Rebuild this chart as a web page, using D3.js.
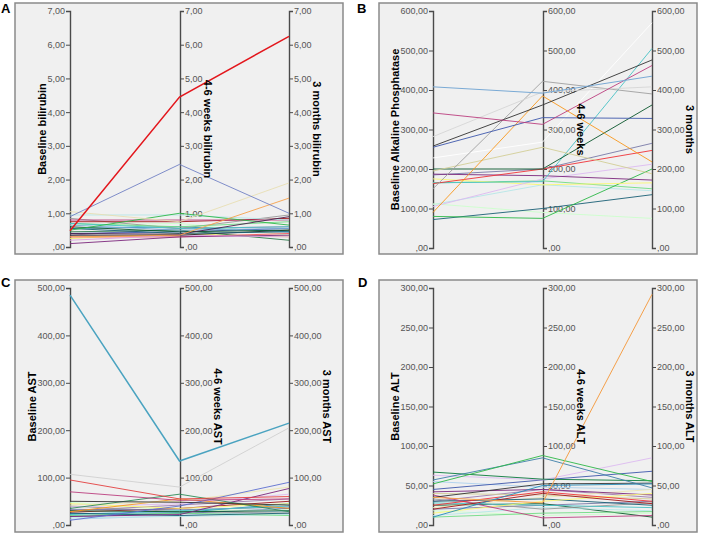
<!DOCTYPE html>
<html>
<head>
<meta charset="utf-8">
<script src="https://cdn.jsdelivr.net/npm/d3@7"></script>
<style>
  html, body { margin: 0; padding: 0; background: #ffffff; }
  svg { display: block; }
</style>
</head>
<body>
<svg id="chart" width="708" height="534"></svg>
<script>
// ---------------- DATA ----------------
// Panel A: bilirubin
const biliTitles = ["Baseline bilirubin", "4-6 weeks bilirubin", "3 months bilirubin"];
const biliTicks = [0, 1, 2, 3, 4, 5, 6, 7];
const biliBaseline = [0.48, 0.90, 1.05, 0.30, 0.40, 0.50, 0.95, 0.80, 0.75, 0.70, 0.65, 0.60, 0.55, 0.35, 0.20, 0.10, 0.30, 0.45, 0.70, 0.85, 0.25, 0.40, 0.65, 0.55, 0.35];
const biliWeeks    = [4.45, 2.45, 0.75, 0.35, 0.38, 1.00, 0.95, 0.80, 0.75, 0.55, 0.50, 0.45, 0.40, 0.35, 0.35, 0.30, 0.30, 0.50, 0.60, 0.55, 0.40, 0.45, 0.70, 0.60, 0.55];
const biliMonths   = [6.25, 1.00, 1.90, 1.45, 0.90, 0.65, 0.80, 0.80, 0.85, 0.60, 0.55, 0.50, 0.45, 0.50, 0.30, 0.35, 0.40, 0.20, 0.75, 0.95, 0.30, 0.55, 0.35, 0.45, 0.60];
const biliColors   = ["#e3161c", "#7282c4", "#e8dfb4", "#f6a24c", "#4a2150", "#2eb848", "#b6e7e8", "#bb3f7f", "#a21619", "#48c2c5", "#7aaad5", "#0a562c", "#1a5f76", "#222222", "#dda0e0", "#7c287d", "#ef5358", "#2a7a4a", "#70dc84", "#999999", "#f3ee73", "#3e58ac", "#ccffcc", "#278bb8", "#9e7cac"];

// Panel B: alkaline phosphatase
const alpTitles = ["Baseline Alkaline Phosphatase", "4-6 weeks", "3 months"];
const alpTicks = [0, 100, 200, 300, 400, 500, 600];
const alpBaseline = [408, 342, 282, 258, 255, 150, 90, 228, 195, 200, 163, 165, 187, 105, 185, 175, 80, 72, 112, 110, 165];
const alpWeeks    = [392, 313, 395, 362, 330, 422, 385, 268, 255, 200, 200, 168, 183, 175, 200, 160, 75, 100, 90, 160, 170];
const alpMonths   = [435, 462, 408, 476, 328, 390, 218, 570, 188, 362, 247, 505, 172, 212, 265, 165, 200, 135, 75, 145, 150];
const alpColors   = ["#7aaad5", "#bb3f7f", "#d6d6d6", "#333333", "#3e58ac", "#a0a0a0", "#f8981d", "#ffffff", "#d3ce97", "#0a562c", "#ef3338", "#48c2c5", "#7c287d", "#ddbaf1", "#797aa7", "#fbf873", "#2eb848", "#1a5f76", "#ccffcc", "#b6e7e8", "#70dc84"];

// Panel C: AST
const astTitles = ["Baseline AST", "4-6 weeks AST", "3 months AST"];
const astTicks = [0, 100, 200, 300, 400, 500];
const astBaseline = [485, 107, 95, 70, 50, 35, 10, 18, 42, 28, 45, 30, 25, 22, 38, 20, 33, 15, 27, 40, 12, 30, 24, 48, 18];
const astWeeks    = [135, 80, 55, 52, 48, 65, 40, 22, 50, 55, 35, 28, 20, 30, 45, 25, 32, 18, 35, 28, 20, 42, 26, 30, 24];
const astMonths   = [215, 205, 60, 55, 42, 28, 90, 77, 80, 35, 45, 30, 25, 40, 65, 20, 38, 22, 50, 25, 30, 55, 45, 32, 35];
const astColors   = ["#4aa3c0", "#d0d0d0", "#e34040", "#bb3f7f", "#333333", "#2e8b57", "#5d6fcf", "#7c287d", "#ebe5b3", "#f8981d", "#fbf873", "#0a562c", "#1a5f76", "#48c2c5", "#ddbaf1", "#70dc84", "#797aa7", "#b6e7e8", "#a21619", "#999999", "#acd0ee", "#9e7cac", "#278bb8", "#ccffcc", "#3e58ac"];

// Panel D: ALT
const altTitles = ["Baseline ALT", "4-6 weeks ALT", "3 months ALT"];
const altTicks = [0, 50, 100, 150, 200, 250, 300];
const altBaseline = [35, 52, 57, 67, 63, 45, 10, 35, 25, 20, 38, 10, 15, 42, 30, 28, 22, 33, 12, 40, 25, 18, 30, 55, 20];
const altWeeks    = [28, 88, 85, 58, 57, 57, 50, 52, 42, 40, 9, 15, 30, 45, 33, 25, 35, 20, 22, 38, 27, 12, 45, 48, 25];
const altMonths   = [292, 55, 47, 56, 85, 68, 52, 53, 30, 27, 12, 17, 40, 38, 25, 22, 45, 28, 18, 33, 10, 15, 35, 45, 30];
const altColors   = ["#f5a04a", "#2eb848", "#3e7fa8", "#0a7a3c", "#ddbaf1", "#3e58ac", "#278bb8", "#333333", "#ef3338", "#a21619", "#bb3f7f", "#70dc84", "#fbf873", "#7c287d", "#1a5f76", "#48c2c5", "#ebe5b3", "#999999", "#b6e7e8", "#d3ce97", "#0a562c", "#ccffcc", "#9e7cac", "#acd0ee", "#797aa7"];

// ---------------- DRAWING ----------------
const svg = d3.select("#chart");
const fmt = v => v === 0 ? ",00" : v.toFixed(2).replace(".", ",");

function drawPanel(cfg) {
  const g = svg.append("g");
  g.append("rect")
    .attr("x", cfg.frame[0]).attr("y", cfg.frame[1])
    .attr("width", cfg.frame[2]).attr("height", cfg.frame[3])
    .attr("fill", "#f0f0f0").attr("stroke", "#8a8a8a").attr("stroke-width", 1.5);
  svg.append("text")
    .attr("x", cfg.letterPos[0]).attr("y", cfg.letterPos[1])
    .attr("font-family", "Liberation Sans, Arial, sans-serif")
    .attr("font-weight", "bold").attr("font-size", 13)
    .attr("fill", "#000").text(cfg.letter);

  const y = d3.scaleLinear().domain([0, d3.max(cfg.ticks)]).range(cfg.yRange);
  const x = d3.scalePoint().domain([0, 1, 2]).range([cfg.axisX[0], cfg.axisX[2]]);

  [0, 1, 2].forEach(i => {
    const ax = (i === 0 ? d3.axisLeft(y) : d3.axisRight(y))
      .tickValues(cfg.ticks).tickFormat(fmt).tickSize(4).tickPadding(1);
    const ag = g.append("g").attr("transform", `translate(${cfg.axisX[i]},0)`).call(ax);
    ag.select(".domain").attr("stroke", "#4a4a4a").attr("stroke-width", 1.4);
    ag.selectAll(".tick line").attr("stroke", "#4a4a4a").attr("stroke-width", 1);
    ag.selectAll(".tick text")
      .attr("font-family", "Liberation Sans, Arial, sans-serif")
      .attr("font-size", 9).attr("fill", "#555");
  });

  const line = d3.line().x((d, i) => x(i)).y(d => y(d));
  const rows = cfg.base.map((b, i) => ({ vals: [b, cfg.weeks[i], cfg.months[i]], color: cfg.colors[i], idx: i }));
  g.append("g").selectAll("path").data(rows.slice().reverse()).join("path")
    .attr("d", d => line(d.vals))
    .attr("fill", "none")
    .attr("stroke", d => d.color)
    .attr("stroke-width", d => (d.idx === 0 && cfg.bold) ? 1.5 : 1)
    .attr("stroke-opacity", d => d.idx === 0 ? 1 : 0.9);

  const cy = (cfg.yRange[0] + cfg.yRange[1]) / 2;
  const tfont = t => t.attr("font-family", "Liberation Sans, Arial, sans-serif")
    .attr("font-weight", "bold").attr("font-size", 11).attr("fill", "#000")
    .attr("text-anchor", "middle").attr("dominant-baseline", "central");
  tfont(g.append("text")
    .attr("transform", `translate(${cfg.axisX[0] - cfg.titleOff},${cy}) rotate(-90)`)
    .text(cfg.titles[0]));
  [1, 2].forEach(i => {
    tfont(g.append("text")
      .attr("transform", `translate(${cfg.axisX[i] + cfg.titleOff},${cy}) rotate(90)`)
      .text(cfg.titles[i]));
  });
}

drawPanel({ letter: "A", letterPos: [1, 13], frame: [15, 3, 328, 251], axisX: [70, 180, 289], yRange: [247, 11], bold: true,
  ticks: biliTicks, titles: biliTitles, base: biliBaseline, weeks: biliWeeks, months: biliMonths, colors: biliColors, titleOff: 28 });
drawPanel({ letter: "B", letterPos: [357, 13], frame: [379, 3, 318, 251], axisX: [433, 543, 652], yRange: [248, 11], bold: false,
  ticks: alpTicks, titles: alpTitles, base: alpBaseline, weeks: alpWeeks, months: alpMonths, colors: alpColors, titleOff: 38 });
drawPanel({ letter: "C", letterPos: [1, 287], frame: [15, 280, 328, 252], axisX: [70, 180, 289], yRange: [525, 288], bold: true,
  ticks: astTicks, titles: astTitles, base: astBaseline, weeks: astWeeks, months: astMonths, colors: astColors, titleOff: 38 });
drawPanel({ letter: "D", letterPos: [358, 287], frame: [379, 280, 318, 252], axisX: [433, 543, 652], yRange: [525, 288], bold: false,
  ticks: altTicks, titles: altTitles, base: altBaseline, weeks: altWeeks, months: altMonths, colors: altColors, titleOff: 38 });
</script>
</body>
</html>
